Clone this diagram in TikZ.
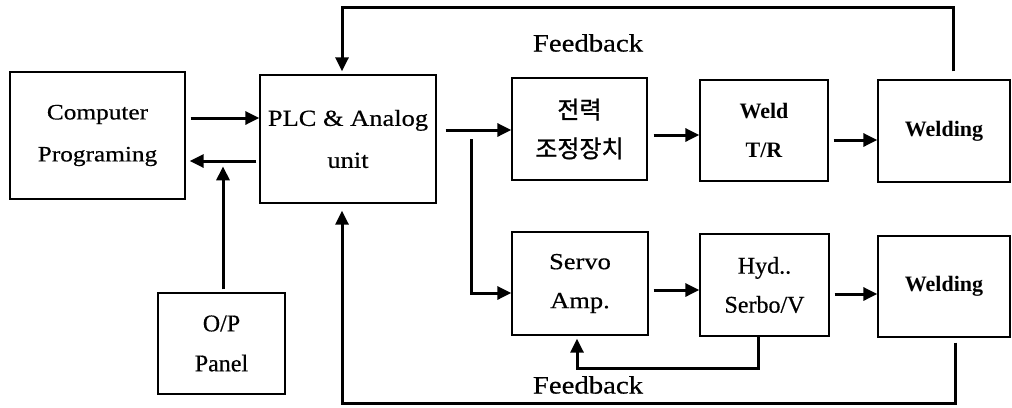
\documentclass[tikz,border=0pt]{standalone}
\usepackage{fontspec}
\setmainfont{Liberation Serif}[FakeBold=0.5]
\newfontfamily\widefont{Liberation Serif}[FakeStretch=1.15,FakeBold=0.5]
\newfontfamily\bfont{Liberation Serif Bold}
\newfontfamily\kofont{Noto Sans CJK KR}[FakeBold=1.2]
\usetikzlibrary{arrows.meta}
\begin{document}
\begin{tikzpicture}[x=1pt,y=-1pt,
  box/.style={draw,line width=1.3pt,inner sep=0pt,align=center},
  arr/.style={line width=3pt,-{Triangle[length=14pt,width=13pt]}},
  rm/.style={font=\widefont\fontsize{22}{42}\selectfont},
  bd/.style={font=\bfont\fontsize{22}{39}\selectfont},
  lbl/.style={font=\widefont\fontsize{25}{30}\selectfont}]
\useasboundingbox (0,0) rectangle (1012,407);
\node[box,rm,minimum width=175pt,minimum height=127pt] (comp) at (97.5,135.5) {Computer\\Programing};
\node[box,font=\widefont\fontsize{23}{42}\selectfont,minimum width=176pt,minimum height=128pt] (plc) at (348,139) {PLC \& Analog\\unit};
\node[box,font=\kofont\fontsize{24}{39}\selectfont,minimum width=135pt,minimum height=102pt] (pow) at (579.5,129) {전력\\조정장치};
\node[box,bd,minimum width=128pt,minimum height=101pt] (weld) at (764,130.5) {Weld\\T/R};
\node[box,bd,minimum width=132pt,minimum height=102pt] (wtop) at (944,131) {Welding};
\node[box,font=\fontsize{24}{40}\selectfont,minimum width=127pt,minimum height=101pt] (op) at (221.5,343.5) {O/P\\Panel};
\node[box,font=\widefont\fontsize{23}{39}\selectfont,minimum width=136pt,minimum height=103pt] (servo) at (580,283.5) {Servo\\Amp.};
\node[box,font=\fontsize{24}{39}\selectfont,minimum width=129pt,minimum height=102pt] (hyd) at (764.5,285) {Hyd..\\Serbo/V};
\node[box,bd,minimum width=132pt,minimum height=101pt] (wbot) at (944,286.5) {Welding};
\node[lbl] (fb1) at (588,43) {Feedback};
\node[lbl] (fb2) at (588,385) {Feedback};
% computer <-> plc
\draw[arr] ([xshift=5pt]comp.east |- 0,118) -- (plc.west |- 0,118);
\draw[arr] ([xshift=-3pt]plc.west |- 0,161) -- ([xshift=4pt]comp.east |- 0,161);
% op panel
\draw[arr] ([xshift=1.5pt,yshift=3pt]op.north) -- ++(0,-123);
% top feedback
\draw[arr] ([xshift=9pt,yshift=8pt]wtop.north) -- ++(0,-64) -| ([xshift=-6pt,yshift=3pt]plc.north);
% bottom feedback
\draw[arr] ([xshift=11pt,yshift=-5pt]wbot.south) -- ++(0,61) -| ([xshift=-6pt,yshift=-7pt]plc.south);
% plc to power
\draw[arr] ([xshift=9pt]plc.east |- 0,130) -- (pow.west |- 0,130);
\coordinate (br) at (471,139);
\draw[arr] (br) |- (servo.west |- 0,293);
% top chain
\draw[arr] ([xshift=6pt]pow.east |- 0,135) -- (weld.west |- 0,135);
\draw[arr] ([xshift=5pt]weld.east |- 0,140) -- (wtop.west |- 0,140);
% bottom chain
\draw[arr] ([xshift=5pt]servo.east |- 0,290) -- (hyd.west |- 0,290);
\draw[arr] ([xshift=5pt]hyd.east |- 0,294) -- (wbot.west |- 0,294);
% inner feedback
\draw[arr] ([xshift=-6.5pt]hyd.south) -- ++(0,32) -| ([xshift=-3pt,yshift=-3pt]servo.south);
\end{tikzpicture}
\end{document}
